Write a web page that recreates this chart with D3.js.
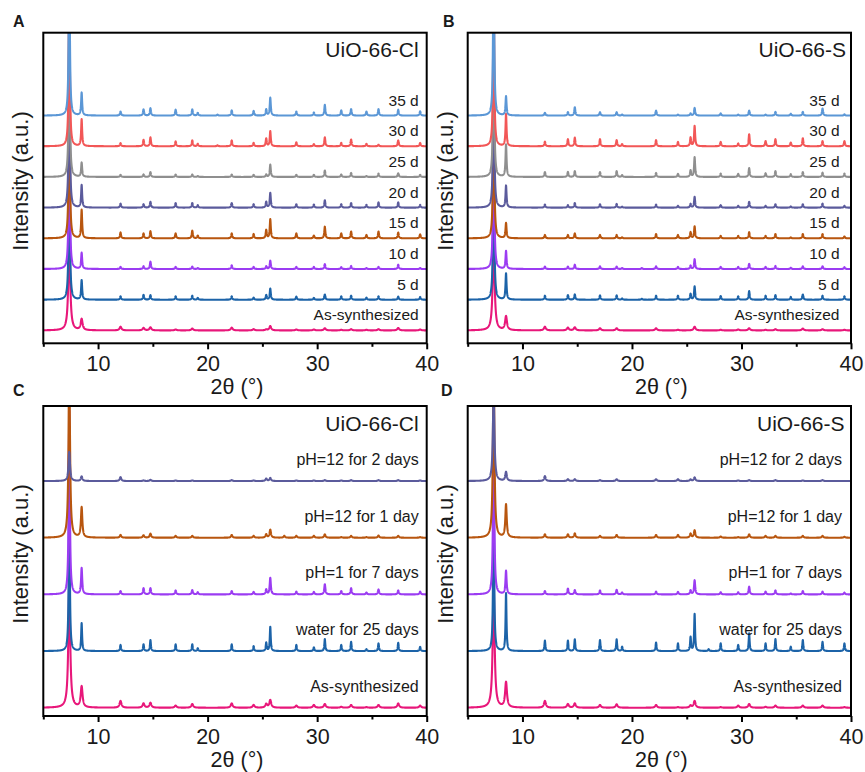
<!DOCTYPE html>
<html>
<head>
<meta charset="utf-8">
<script src="https://cdn.jsdelivr.net/npm/d3@7"></script>
<style>
  body { margin: 0; background: #fff; }
  svg { display: block; }
  text { font-family: "Liberation Sans", Arial, Helvetica, sans-serif; fill: #1a1a1a; }
</style>
</head>
<body>
<svg id="fig" width="865" height="772"></svg>
<script>
// Reflections of the UiO-66 framework, 2θ in degrees
const peakPositions = [7.37, 8.50, 12.05, 14.15, 14.78, 17.08, 18.60, 19.10, 20.90, 22.20, 24.20,
                       25.35, 25.72, 27.00, 28.10, 29.70, 30.70, 32.20, 33.10, 34.50, 35.60, 37.40, 39.40];

const xTicksMajor = [10, 20, 30, 40];
const xTicksMinor = [5, 15, 25, 35];

// Soaking time series (bottom to top)
const soakLabels = ["As-synthesized", "5 d", "10 d", "15 d", "20 d", "25 d", "30 d", "35 d"];
const soakColors = ["#e8177a", "#1c63a8", "#9b3cf2", "#b8560f", "#5b5b9c", "#8f8f8f", "#f25757", "#5b97d6"];

// Chemical treatment series (bottom to top)
const treatLabels = ["As-synthesized", "water for 25 days", "pH=1 for 7 days", "pH=12 for 1 day", "pH=12 for 2 days"];
const treatColors = ["#e8177a", "#1c63a8", "#9b3cf2", "#b8560f", "#5b5b9c"];

// Peak intensities (a.u.) for each series, one value per reflection in peakPositions
const heightsClSoak = [
  [300, 36, 12, 8, 10, 3, 6, 0, 0, 9, 4, 3, 14, 0, 3, 3, 7, 2, 4, 2, 4, 8, 3],
  [600, 63, 11, 16, 15, 11, 13, 6, 0, 11, 7, 15, 36, 0, 10, 6, 17, 11, 13, 7, 11, 10, 9],
  [600, 52, 7, 9, 24, 7, 8, 3, 0, 12, 7, 9, 27, 0, 7, 7, 16, 6, 10, 3, 7, 14, 3],
  [600, 92, 19, 16, 23, 16, 25, 9, 0, 16, 14, 27, 62, 0, 16, 9, 38, 16, 22, 11, 22, 19, 13],
  [600, 73, 13, 11, 19, 15, 15, 8, 0, 15, 11, 19, 48, 0, 11, 10, 24, 11, 15, 9, 17, 17, 9],
  [600, 46, 7, 8, 16, 8, 8, 3, 0, 8, 7, 8, 40, 0, 7, 7, 21, 8, 13, 3, 11, 12, 7],
  [600, 87, 10, 21, 29, 16, 19, 8, 3, 19, 11, 25, 49, 0, 13, 7, 29, 11, 22, 8, 5, 19, 11],
  [600, 74, 13, 20, 24, 19, 20, 9, 3, 17, 15, 20, 58, 0, 13, 10, 35, 17, 21, 13, 21, 19, 14]
];
const heightsSSoak = [
  [300, 45, 12, 9, 10, 7, 7, 0, 0, 7, 2, 0, 12, 0, 2, 3, 7, 2, 4, 0, 6, 4, 2],
  [600, 85, 13, 15, 17, 14, 14, 4, 3, 13, 13, 19, 43, 0, 12, 11, 28, 13, 15, 9, 17, 13, 11],
  [600, 58, 8, 8, 14, 9, 8, 3, 3, 9, 7, 11, 32, 0, 7, 7, 17, 7, 10, 4, 9, 9, 6],
  [600, 49, 11, 11, 16, 11, 11, 3, 0, 14, 11, 20, 39, 0, 8, 8, 20, 8, 14, 3, 14, 14, 6],
  [600, 71, 10, 8, 15, 11, 12, 3, 0, 10, 6, 12, 35, 0, 8, 6, 19, 6, 11, 4, 11, 13, 6],
  [600, 105, 16, 16, 19, 16, 19, 6, 0, 13, 10, 21, 64, 0, 11, 10, 29, 12, 19, 9, 16, 14, 11],
  [600, 104, 15, 23, 28, 23, 20, 7, 0, 20, 14, 28, 66, 0, 14, 9, 39, 17, 23, 12, 26, 17, 17],
  [600, 62, 9, 11, 27, 11, 11, 3, 0, 16, 3, 7, 25, 0, 7, 3, 16, 3, 12, 6, 12, 23, 4]
];
const heightsClTreat = [
  [400, 68, 22, 14, 16, 7, 12, 0, 0, 14, 9, 12, 25, 0, 7, 9, 12, 3, 9, 2, 9, 14, 7],
  [600, 90, 20, 22, 36, 22, 22, 9, 0, 22, 16, 27, 79, 0, 20, 12, 39, 20, 30, 6, 25, 27, 14],
  [600, 85, 11, 20, 20, 13, 14, 7, 0, 11, 8, 16, 54, 0, 9, 8, 33, 11, 20, 6, 16, 13, 9],
  [600, 98, 9, 8, 13, 6, 6, 0, 0, 9, 6, 11, 26, 6, 6, 6, 11, 2, 6, 2, 7, 6, 2],
  [95, 15, 13, 2, 4, 2, 2, 0, 0, 3, 2, 8, 10, 0, 2, 2, 3, 2, 3, 0, 3, 3, 2]
];
const heightsSTreat = [
  [400, 82, 22, 12, 14, 9, 11, 0, 0, 9, 2, 7, 22, 0, 2, 7, 12, 3, 7, 0, 7, 7, 2],
  [600, 188, 34, 34, 38, 36, 38, 14, 0, 28, 25, 45, 121, 6, 25, 20, 58, 25, 39, 14, 36, 30, 25],
  [600, 76, 11, 19, 14, 13, 15, 6, 0, 9, 8, 13, 46, 0, 7, 7, 25, 9, 13, 3, 11, 9, 6],
  [600, 107, 11, 11, 14, 6, 9, 0, 0, 9, 9, 13, 24, 0, 4, 2, 11, 6, 6, 0, 6, 6, 3],
  [300, 29, 16, 6, 6, 3, 6, 0, 0, 6, 6, 5, 12, 0, 0, 2, 3, 0, 3, 0, 2, 3, 0]
];

// Peak half-widths (degrees) per series
const widthsSoak = [0.10, 0.055, 0.055, 0.055, 0.055, 0.055, 0.055, 0.055];
const widthsTreat = [0.10, 0.05, 0.06, 0.075, 0.08];

const panels = [
  { tag: "A", title: "UiO-66-Cl", labels: soakLabels, colors: soakColors, heights: heightsClSoak, widths: widthsSoak,
    left: 43.3, right: 426.7, top: 32.7, bottom: 343.3, yDomain: [-42, 970], step: 100, rise: 10, pad: 8, titlePad: 8, tagX: 13, tagY: 27 },
  { tag: "B", title: "UiO-66-S", labels: soakLabels, colors: soakColors, heights: heightsSSoak, widths: widthsSoak,
    left: 467.7, right: 851, top: 32.7, bottom: 343.3, yDomain: [-42, 970], step: 100, rise: 10, pad: 11.5, titlePad: 5, tagX: 443, tagY: 27 },
  { tag: "C", title: "UiO-66-Cl", labels: treatLabels, colors: treatColors, heights: heightsClTreat, widths: widthsTreat,
    left: 43.3, right: 426.7, top: 406, bottom: 716, yDomain: [-27, 985], step: 185, rise: 16, pad: 8, titlePad: 8, tagX: 13, tagY: 396 },
  { tag: "D", title: "UiO-66-S", labels: treatLabels, colors: treatColors, heights: heightsSTreat, widths: widthsTreat,
    left: 467.7, right: 851, top: 406, bottom: 716, yDomain: [-27, 985], step: 185, rise: 16, pad: 9, titlePad: 6.5, tagX: 441, tagY: 396 }
];

const svg = d3.select("#fig");
const grid = d3.range(5, 40.0001, 0.01);

// Lorentzian line profile summed over all reflections
function pattern(heights, gamma) {
  return grid.map(t => {
    let v = 0;
    for (let i = 0; i < peakPositions.length; i++) {
      const h = heights[i];
      if (!h) continue;
      const d = t - peakPositions[i];
      v += h * gamma * gamma / (d * d + gamma * gamma);
    }
    return [t, v];
  });
}

panels.forEach((p, pi) => {
  const x = d3.scaleLinear().domain([5, 40]).range([p.left, p.right]);
  const y = d3.scaleLinear().domain(p.yDomain).range([p.bottom, p.top]);
  const g = svg.append("g");

  const clipId = "clip" + pi;
  svg.append("clipPath").attr("id", clipId)
    .append("rect").attr("x", p.left).attr("y", p.top)
    .attr("width", p.right - p.left).attr("height", p.bottom - p.top);

  const curves = g.append("g").attr("clip-path", `url(#${clipId})`);
  p.heights.forEach((hs, si) => {
    const offset = si * p.step;
    const line = d3.line().x(d => x(d[0])).y(d => y(d[1] + offset));
    curves.append("path")
      .attr("d", line(pattern(hs, p.widths[si])))
      .attr("fill", "none")
      .attr("stroke", p.colors[si])
      .attr("stroke-width", 2.1)
      .attr("stroke-linejoin", "round");
  });

  // series labels
  p.labels.forEach((lab, si) => {
    g.append("text")
      .attr("x", p.right - p.pad)
      .attr("y", y(si * p.step) - p.rise)
      .attr("text-anchor", "end")
      .attr("font-size", p.step === 100 ? 15.5 : 16)
      .text(lab);
  });

  // frame
  g.append("rect")
    .attr("x", p.left).attr("y", p.top)
    .attr("width", p.right - p.left).attr("height", p.bottom - p.top)
    .attr("fill", "none").attr("stroke", "#000").attr("stroke-width", 2);

  // x axis: major and minor ticks
  const axMajor = g.append("g").attr("transform", `translate(0,${p.bottom})`)
    .call(d3.axisBottom(x).tickValues(xTicksMajor).tickSize(6).tickFormat(d3.format("d")));
  axMajor.select(".domain").remove();
  axMajor.selectAll(".tick line").attr("stroke", "#000").attr("stroke-width", 2);
  axMajor.selectAll(".tick text").attr("y", 28).attr("dy", 0)
    .attr("font-size", 21.5).attr("font-family", "Liberation Sans, Arial, sans-serif").attr("fill", "#1a1a1a");

  const axMinor = g.append("g").attr("transform", `translate(0,${p.bottom})`)
    .call(d3.axisBottom(x).tickValues(xTicksMinor).tickSize(3.5).tickFormat(""));
  axMinor.select(".domain").remove();
  axMinor.selectAll(".tick line").attr("stroke", "#000").attr("stroke-width", 2);

  // axis titles
  g.append("text")
    .attr("x", (p.left + p.right) / 2 + 2)
    .attr("y", p.bottom + 51)
    .attr("text-anchor", "middle")
    .attr("font-size", 21.5)
    .text("2θ (°)");

  const yc = (p.top + p.bottom) / 2 - 7;
  g.append("text")
    .attr("transform", `translate(${p.left - 15},${yc}) rotate(-90)`)
    .attr("text-anchor", "middle")
    .attr("font-size", 22)
    .text("Intensity (a.u.)");

  // sample name
  g.append("text")
    .attr("x", p.right - p.titlePad)
    .attr("y", p.top + 24.5)
    .attr("text-anchor", "end")
    .attr("font-size", 21)
    .text(p.title);

  // panel letter
  g.append("text")
    .attr("x", p.tagX).attr("y", p.tagY)
    .attr("font-size", 16).attr("font-weight", "bold")
    .text(p.tag);
});
</script>
</body>
</html>
